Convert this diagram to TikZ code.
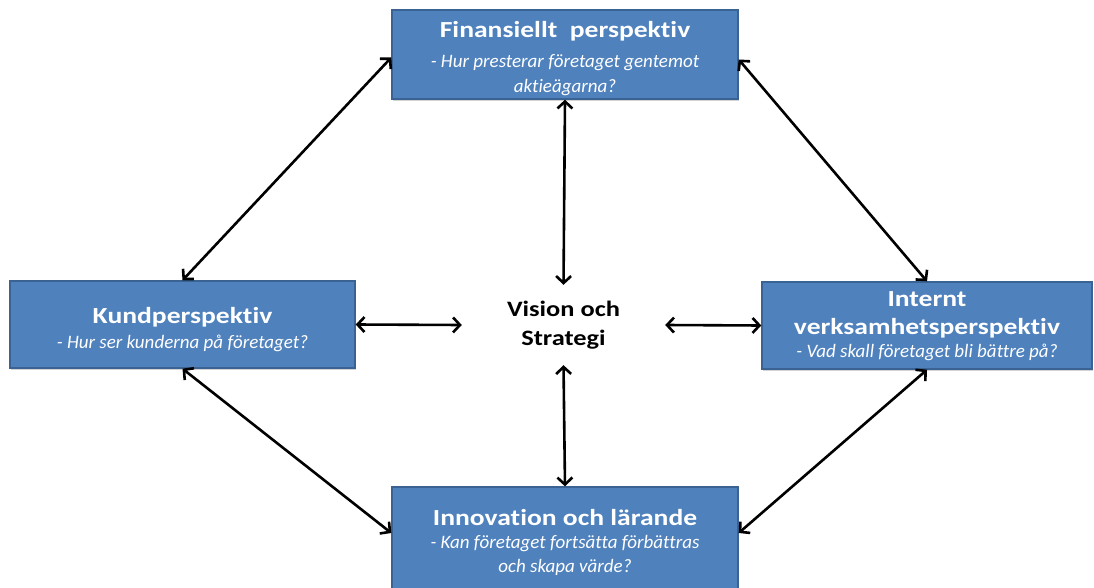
\documentclass[tikz,border=0pt]{standalone}
\usepackage{fontspec}
\setmainfont[FakeStretch=1.2, Ligatures=NoCommon]{Carlito}
\newfontfamily\subfam[Ligatures=NoCommon]{Carlito}
\usetikzlibrary{arrows.meta,shadows}

\definecolor{boxfill}{HTML}{4F81BD}
\definecolor{boxline}{HTML}{3A6394}

\newcommand\ttl{\fontsize{23}{25}\selectfont\bfseries}
\newcommand\sub{\subfam\fontsize{19}{25}\selectfont\mdseries\itshape}

\tikzset{
  persp/.style={rectangle, fill=boxfill, draw=boxline, line width=1.4pt,
    inner sep=0pt,
    drop shadow={shadow xshift=1pt, shadow yshift=-2pt, opacity=0.35}},
  persptext/.style={text=white, align=center, inner sep=0pt,
    font=\fontsize{16}{25}\selectfont},
  link/.style={line width=2.6pt, black,
    {Straight Barb[length=7pt,width=15pt]}-{Straight Barb[length=7pt,width=15pt]}}
}

\begin{document}
\begin{tikzpicture}[x=1pt,y=-1pt]
\useasboundingbox (0,0) rectangle (1094,588);

% the four perspective boxes
\node[persp, minimum width=346pt, minimum height=89pt] (fin) at (565,54.5) {};
\node[persp, minimum width=345pt, minimum height=87pt] (kund) at (182.5,324.5) {};
\node[persp, minimum width=330pt, minimum height=87pt] (intern) at (927,325.5) {};
\node[persp, minimum width=346pt, minimum height=104pt] (innov) at (565,539) {};

% their texts
\node[persptext] (fin-t) at ([yshift=-4pt]fin.center)
  {\ttl Finansiellt\ \ perspektiv\\[5pt]\sub - Hur presterar företaget gentemot\\ \sub aktieägarna?};
\node[persptext] (kund-t) at ([yshift=-5pt]kund.center)
  {\ttl Kundperspektiv\\[0pt]\sub - Hur ser kunderna på företaget?};
\node[persptext] (intern-t) at ([yshift=-1pt]intern.center)
  {\ttl Internt\\[3pt] \ttl verksamhetsperspektiv\\[-2pt]\sub - Vad skall företaget bli bättre på?};
\node[persptext] (innov-t) at ([yshift=-3pt]innov.center)
  {\ttl Innovation och lärande\\[-2pt]\sub - Kan företaget fortsätta förbättras\\[-1pt] \sub och skapa värde?};

% centre
\node[minimum width=203pt, minimum height=80pt, align=center, inner sep=0pt,
  font=\fontsize{22}{29}\selectfont\bfseries] (vis) at (563.5,325)
  {Vision och\\ Strategi};

% connectors
\draw[link] (kund.north) -- ([yshift=-3pt]fin.west);
\draw[link] ([yshift=-5pt]fin.east) -- (intern.north);
\draw[link] (kund.south) -- ([yshift=6pt]innov.west);
\draw[link] (intern.south) -- ([yshift=6pt]innov.east);
\draw[link] (fin.south) -- (vis.north);
\draw[link] (vis.south) -- (innov.north);
\draw[link] (kund.east) -- (vis.west);
\draw[link] (vis.east) -- (intern.west);
\end{tikzpicture}
\end{document}
